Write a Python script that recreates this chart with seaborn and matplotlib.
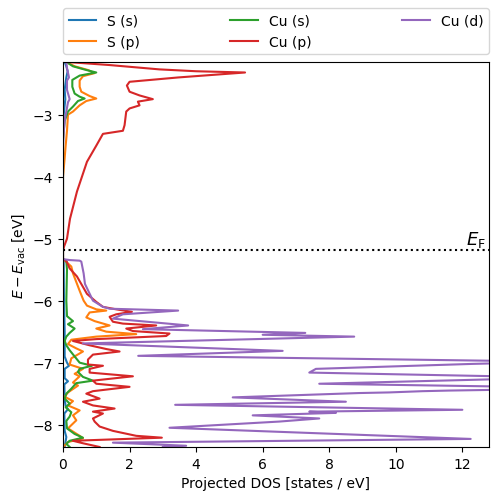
import pandas as pd
import seaborn as sns
import matplotlib.pyplot as plt

e_fermi = -5.18
orbitals = ["S (s)", "S (p)", "Cu (s)", "Cu (p)", "Cu (d)"]
colors = ["#1f77b4", "#ff7f0e", "#2ca02c", "#d62728", "#9467bd"]

# S (s)
s_s_energy = [-2.15, -2.22, -2.30, -2.40, -2.48, -2.60, -2.75, -2.85, -3.00, -3.30,
              -5.33, -5.36, -6.00, -6.50, -6.90, -7.00, -7.05, -7.10, -7.25, -7.30,
              -7.35, -7.60, -7.70, -7.75, -7.82, -8.10, -8.20, -8.36]
s_s_dos = [0.05, 0.10, 0.14, 0.10, 0.08, 0.05, 0.07, 0.05, 0.02, 0.0,
           0.0, 0.02, 0.03, 0.05, 0.05, 0.12, 0.18, 0.05, 0.05, 0.15,
           0.04, 0.05, 0.08, 0.15, 0.04, 0.05, 0.10, 0.05]

# S (p)
s_p_energy = [-2.15, -2.22, -2.28, -2.33, -2.38, -2.45, -2.55, -2.63, -2.70, -2.74,
              -2.78, -2.85, -2.95, -3.00, -3.26, -3.50, -3.70, -4.00, -5.33,
              -5.35, -5.45, -5.56, -5.84, -6.00, -6.08, -6.14, -6.16, -6.19, -6.27,
              -6.33, -6.40, -6.45, -6.50, -6.54, -6.58, -6.63, -6.70, -6.77, -6.82,
              -6.93, -7.03, -7.10, -7.18, -7.22, -7.32, -7.37, -7.48, -7.55, -7.62,
              -7.69, -7.77, -7.85, -7.93, -8.06, -8.18, -8.22, -8.28, -8.36]
s_p_dos = [0.10, 0.35, 0.75, 0.95, 0.60, 0.50, 0.50, 0.55, 0.80, 1.00,
           0.70, 0.50, 0.30, 0.15, 0.12, 0.08, 0.05, 0.0, 0.0,
           0.05, 0.25, 0.30, 0.50, 0.62, 0.72, 1.00, 1.30, 0.80, 0.70,
           0.95, 1.40, 1.00, 1.30, 2.20, 1.00, 0.25, 0.15, 0.40, 0.60,
           0.25, 0.20, 0.60, 0.35, 0.50, 0.30, 0.45, 0.15, 0.05, 0.30,
           0.15, 0.50, 0.30, 0.40, 0.15, 0.50, 0.60, 0.15, 0.0]

# Cu (s)
cu_s_energy = [-2.15, -2.22, -2.28, -2.32, -2.37, -2.44, -2.55, -2.66, -2.71, -2.74,
               -2.78, -2.87, -2.95, -3.10, -3.40, -5.33,
               -5.36, -5.50, -6.00, -6.25, -6.33, -6.38, -6.45, -6.52, -6.58, -6.65,
               -6.72, -6.80, -6.90, -7.00, -7.05, -7.10, -7.15, -7.23, -7.29, -7.33,
               -7.42, -7.50, -7.58, -7.66, -7.72, -7.80, -7.87, -7.94, -8.06, -8.15,
               -8.21, -8.26, -8.31, -8.36]
cu_s_dos = [0.10, 0.30, 0.70, 1.00, 0.50, 0.28, 0.28, 0.35, 0.50, 0.65,
            0.45, 0.30, 0.15, 0.05, 0.0, 0.0,
            0.10, 0.12, 0.10, 0.12, 0.30, 0.15, 0.35, 0.20, 0.10, 0.05,
            0.10, 0.20, 0.35, 0.50, 0.87, 0.50, 0.45, 0.60, 0.90, 0.40,
            0.25, 0.10, 0.05, 0.20, 0.08, 0.25, 0.20, 0.10, 0.12, 0.35,
            0.60, 0.20, 0.10, 0.20]

# Cu (p)
cu_p_energy = [-2.15, -2.20, -2.27, -2.30, -2.32, -2.40, -2.47, -2.53, -2.63, -2.69,
               -2.75, -2.79, -2.85, -2.90, -2.95, -3.17, -3.26, -3.31, -3.50, -3.76,
               -4.24, -4.68, -5.00, -5.13, -5.20, -5.33,
               -5.36, -5.48, -5.61, -5.89, -6.02, -6.10, -6.14, -6.18, -6.22, -6.26,
               -6.34, -6.37, -6.40, -6.45, -6.49, -6.53, -6.57, -6.62, -6.65, -6.72,
               -6.78, -6.82, -6.87, -6.95, -7.03, -7.05, -7.10, -7.16, -7.22, -7.29,
               -7.34, -7.39, -7.46, -7.50, -7.58, -7.63, -7.69, -7.74, -7.79, -7.82,
               -7.90, -7.95, -8.03, -8.10, -8.18, -8.21, -8.26, -8.30, -8.36]
cu_p_dos = [0.10, 1.40, 2.90, 4.00, 5.47, 3.46, 2.00, 1.92, 2.00, 2.30,
            2.70, 2.25, 2.30, 2.00, 1.90, 1.85, 1.80, 1.20, 1.00, 0.72,
            0.42, 0.21, 0.12, 0.03, 0.0, 0.0,
            0.10, 0.20, 0.42, 0.72, 1.00, 1.20, 1.60, 2.07, 1.60, 1.40,
            1.50, 1.80, 2.80, 1.90, 2.10, 3.20, 3.10, 1.00, 0.30, 0.80,
            1.30, 1.70, 0.90, 0.75, 0.75, 1.20, 0.80, 0.80, 2.10, 0.90,
            1.00, 2.00, 0.90, 0.70, 1.10, 0.60, 0.90, 1.55, 0.90, 1.20,
            0.90, 0.95, 1.10, 1.50, 2.20, 2.97, 0.30, 0.60, 1.10]

# Cu (d)
cu_d_energy = [-2.15, -2.25, -2.40, -2.45, -2.60, -2.75, -2.80, -2.95, -3.10, -3.30,
               -3.50, -5.33,
               -5.345, -5.355, -5.37, -5.56, -5.73, -6.00, -6.10, -6.13, -6.16, -6.22,
               -6.29, -6.40, -6.46, -6.52, -6.55, -6.58, -6.69, -6.81, -6.89, -6.985,
               -7.02, -7.10, -7.16, -7.24, -7.34, -7.40, -7.44, -7.45, -7.46, -7.48,
               -7.49, -7.56, -7.63, -7.68, -7.76, -7.79, -7.81, -7.85, -7.90, -7.95,
               -8.05, -8.23, -8.29, -8.34, -8.36]
cu_d_dos = [0.10, 0.12, 0.18, 0.12, 0.12, 0.20, 0.15, 0.10, 0.05, 0.02,
            0.0, 0.0,
            0.20, 0.50, 0.55, 0.62, 0.66, 0.90, 1.20, 1.40, 3.46, 1.80,
            1.50, 3.76, 2.40, 7.28, 6.00, 8.75, 0.60, 6.60, 2.26, 15.0,
            12.3, 7.60, 7.40, 15.0, 7.70, 15.0, 12.8, 11.6, 10.8, 9.80,
            8.90, 5.10, 8.50, 3.37, 12.0, 7.40, 8.20, 5.70, 7.70, 6.50,
            3.20, 12.25, 1.50, 3.70, 3.00]

series = [
    (s_s_energy, s_s_dos),
    (s_p_energy, s_p_dos),
    (cu_s_energy, cu_s_dos),
    (cu_p_energy, cu_p_dos),
    (cu_d_energy, cu_d_dos),
]
frames = []
for name, (en, dos) in zip(orbitals, series):
    frames.append(pd.DataFrame({"energy": en, "dos": dos, "orbital": name}))
df = pd.concat(frames, ignore_index=True)

fig = plt.figure(figsize=(4.98, 5.02), dpi=100)
ax = fig.add_axes([0.1265, 0.1076, 0.8554, 0.767])

sns.lineplot(data=df, x="dos", y="energy", hue="orbital", hue_order=orbitals,
             palette=colors, estimator=None, sort=False, orient="y",
             linewidth=1.5, ax=ax)

ax.axhline(e_fermi, color="k", ls=":", lw=1.5)
ax.text(12.1, e_fermi + 0.01, r"$E_\mathrm{F}$", fontsize=13, va="bottom")

ax.set_xlim(0, 12.8)
ax.set_ylim(-8.36, -2.15)
ax.set_xlabel("Projected DOS [states / eV]")
ax.set_ylabel(r"$E - E_\mathrm{vac}$ [eV]")

handles, labels = ax.get_legend_handles_labels()
ax.legend(handles, labels, ncol=3, loc="lower left",
          bbox_to_anchor=(0, 1.02, 1, 0.102), mode="expand", borderaxespad=0)

fig.savefig("out.png", dpi=100)
